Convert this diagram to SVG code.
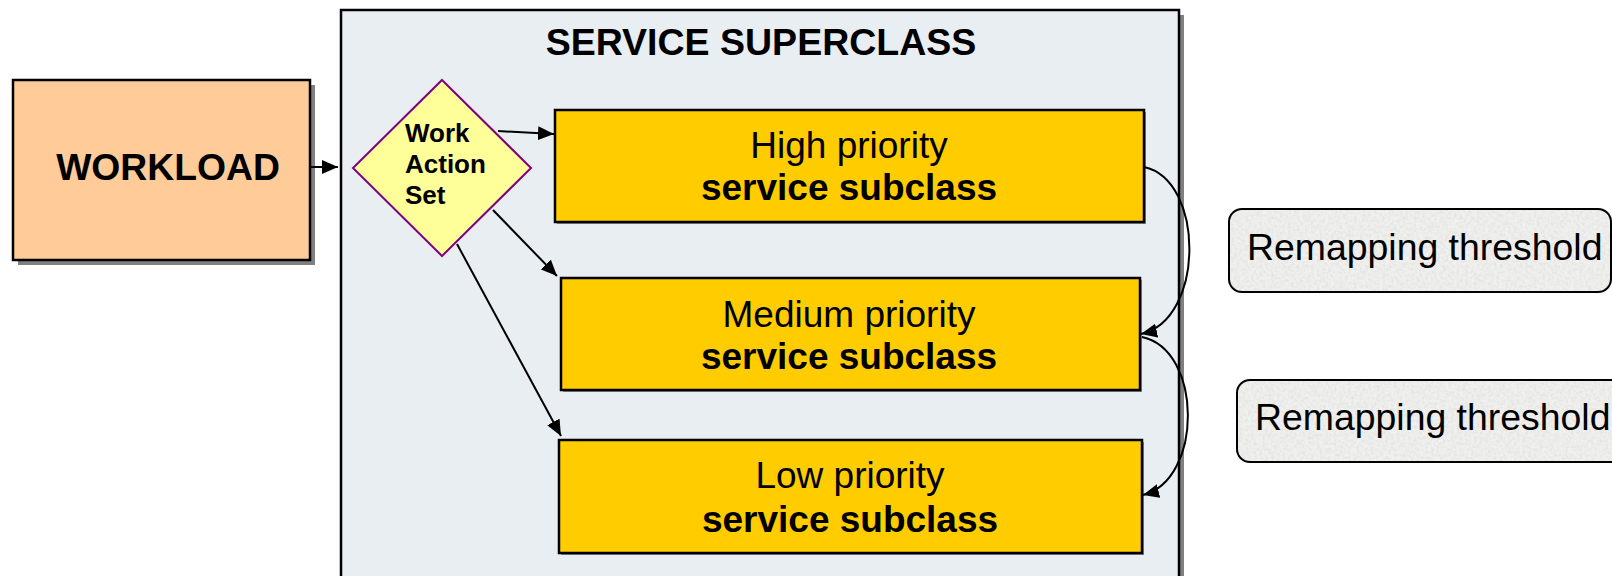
<svg xmlns="http://www.w3.org/2000/svg" width="1612" height="576" viewBox="0 0 1612 576">
  <defs>
    <style>
      .t { font-family: "Liberation Sans", Arial, sans-serif; fill: #000; }
      .b { font-weight: bold; }
      .sub { fill: #FFCC00; stroke: #000; stroke-width: 2.5; }
      .subsh { fill: #8a8a8a; }
      .conn { fill: none; stroke: #000; stroke-width: 2; }
      .rm { fill: #F0F0EE; }
      .rmb { fill: none; stroke: #000; stroke-width: 2; }
    </style>
    <marker id="ah" markerUnits="userSpaceOnUse" markerWidth="18" markerHeight="14" refX="16" refY="7" orient="auto">
      <path d="M0,0 L16,7 L0,14 Z" fill="#000"/>
    </marker>
    <filter id="granite" x="0" y="0" width="100%" height="100%">
      <feTurbulence type="fractalNoise" baseFrequency="0.35" numOctaves="2" seed="3" result="t"/>
      <feColorMatrix in="t" type="matrix" values="0 0 0 0 0.72  0 0 0 0 0.72  0 0 0 0 0.70  1.4 0 0 0 -0.5" result="n"/>
      <feComposite in="n" in2="SourceGraphic" operator="in" result="m"/>
      <feMerge><feMergeNode in="SourceGraphic"/><feMergeNode in="m"/></feMerge>
    </filter>
  </defs>

  <rect width="1612" height="576" fill="#fff"/>

  <g id="superclass">
    <rect x="346" y="15" width="838" height="600" fill="#808080"/>
    <rect x="341" y="10" width="838" height="600" fill="#E9EEF3" stroke="#000" stroke-width="2.5"/>
    <text class="t b" x="761" y="55" font-size="37.5" text-anchor="middle">SERVICE SUPERCLASS</text>
  </g>

  <g id="workload">
    <rect x="18" y="85" width="297" height="180" fill="#808080"/>
    <rect x="13" y="80" width="297" height="180" fill="#FFCC99" stroke="#000" stroke-width="2.5"/>
    <text class="t b" x="168" y="180" font-size="37.3" text-anchor="middle">WORKLOAD</text>
  </g>

  <g id="work-action-set">
    <polygon points="442,80 531,168 442,256 353,168" fill="#FFFF99" stroke="#800080" stroke-width="2"/>
    <text class="t b" x="405" font-size="26">
      <tspan x="405" y="142">Work</tspan>
      <tspan x="405" y="173">Action</tspan>
      <tspan x="405" y="204">Set</tspan>
    </text>
  </g>

  <g id="high">
    <rect class="subsh" x="557" y="112" width="589" height="112"/>
    <rect class="sub" x="555" y="110" width="589" height="112"/>
    <text class="t" x="849" y="158" font-size="37" text-anchor="middle">High priority</text>
    <text class="t b" x="849" y="200" font-size="37" text-anchor="middle">service subclass</text>
  </g>

  <g id="medium">
    <rect class="subsh" x="563" y="280" width="579" height="112"/>
    <rect class="sub" x="561" y="278" width="579" height="112"/>
    <text class="t" x="849" y="327" font-size="37" text-anchor="middle">Medium priority</text>
    <text class="t b" x="849" y="369" font-size="37" text-anchor="middle">service subclass</text>
  </g>

  <g id="low">
    <rect class="subsh" x="561" y="442" width="583" height="113"/>
    <rect class="sub" x="559" y="440" width="583" height="113"/>
    <text class="t" x="850" y="488" font-size="37" text-anchor="middle">Low priority</text>
    <text class="t b" x="850" y="532" font-size="37" text-anchor="middle">service subclass</text>
  </g>

  <g id="threshold1">
    <rect class="rm" x="1229" y="209" width="382" height="83" rx="13" filter="url(#granite)"/>
    <rect class="rmb" x="1229" y="209" width="382" height="83" rx="13"/>
    <text class="t" x="1247" y="260" font-size="37.4">Remapping threshold</text>
  </g>

  <g id="threshold2">
    <rect class="rm" x="1237" y="380" width="390" height="82" rx="13" filter="url(#granite)"/>
    <rect class="rmb" x="1237" y="380" width="390" height="82" rx="13"/>
    <text class="t" x="1255" y="430" font-size="37.4">Remapping threshold</text>
  </g>

  <g id="connectors">
    <path class="conn" d="M310,167 L338,167" marker-end="url(#ah)"/>
    <path class="conn" d="M498,131 L554,134" marker-end="url(#ah)"/>
    <path class="conn" d="M493,210 L557,276" marker-end="url(#ah)"/>
    <path class="conn" d="M457,244 L561,436" marker-end="url(#ah)"/>
    <path class="conn" d="M1144,167 C1205,180 1205,320 1141,334" marker-end="url(#ah)"/>
    <path class="conn" d="M1142,337 C1203,350 1203,480 1143,495" marker-end="url(#ah)"/>
  </g>
</svg>
